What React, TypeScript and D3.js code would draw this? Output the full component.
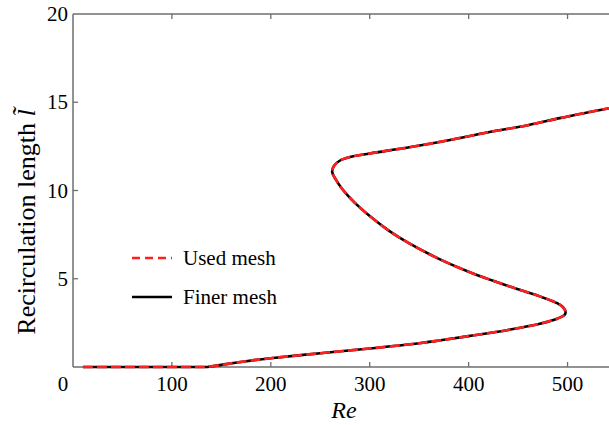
import React from 'react';
import * as d3 from 'd3';

// flat part of the curve (l = 0)
const flatRe = [10, 136];
const flatL = [0, 0];
// Re values along the curve (lower branch -> nose -> upper branch)
const reValues = [136, 150, 175, 200, 250, 300, 350, 370, 400, 440, 472, 490, 497, 498, 496, 490, 472, 450, 424, 400, 371, 340, 320, 300, 285, 272, 266, 262, 264, 270, 280, 300, 340, 380, 420, 460, 492, 520, 541, 560];
const lValues = [0, 0.12, 0.33, 0.5, 0.78, 1.05, 1.35, 1.5, 1.75, 2.1, 2.45, 2.75, 2.95, 3.1, 3.35, 3.6, 4.0, 4.4, 4.9, 5.4, 6.1, 7.0, 7.7, 8.55, 9.3, 10.1, 10.6, 11.05, 11.4, 11.7, 11.9, 12.1, 12.45, 12.85, 13.3, 13.7, 14.1, 14.42, 14.65, 14.82];
const xTicks = [0, 100, 200, 300, 400, 500];
const yTicks = [0, 5, 10, 15, 20];
const legendLabels = ['Used mesh', 'Finer mesh'];

const W = 609;
const H = 425;
const left = 73, top = 14, bottom = 367;
const right = 617;

export default function App() {
  const x = d3.scaleLinear().domain([0, 550]).range([left, right]);
  const y = d3.scaleLinear().domain([0, 20]).range([bottom, top]);
  const pts = reValues.map((r, i) => [r, lValues[i]] as [number, number]);
  const flat = flatRe.map((r, i) => [r, flatL[i]] as [number, number]);
  const curve = d3.line<[number, number]>()
    .x(d => x(d[0]))
    .y(d => y(d[1]))
    .curve(d3.curveCatmullRom.alpha(0.5));
  const straight = d3.line<[number, number]>()
    .x(d => x(d[0]))
    .y(d => y(d[1]));
  const path = (straight(flat) || '') + (curve(pts) || '').replace(/^M/, 'L');
  const axisColor = '#6e6e6e';
  const font = '"Liberation Serif", "Times New Roman", serif';
  const red = '#ff1f1f';

  return (
    <svg width={W} height={H} style={{ position: 'absolute', left: 0, top: 0 }} fontFamily={font}>
      <rect x={0} y={0} width={W} height={H} fill="#fff" />
      {/* frame */}
      <line x1={left} x2={right} y1={top} y2={top} stroke={axisColor} strokeWidth={1.5} />
      <line x1={left} x2={right} y1={bottom} y2={bottom} stroke={axisColor} strokeWidth={1.5} />
      <line x1={left} x2={left} y1={top} y2={bottom} stroke={axisColor} strokeWidth={1.5} />
      {xTicks.map(t => (
        <g key={'x' + t}>
          {t > 0 && <line x1={x(t)} x2={x(t)} y1={bottom} y2={bottom - 5} stroke={axisColor} strokeWidth={1.3} />}
          {t > 0 && <line x1={x(t)} x2={x(t)} y1={top} y2={top + 5} stroke={axisColor} strokeWidth={1.3} />}
          <text x={x(t) - (t === 0 ? 10 : 0)} y={391} fontSize={21} textAnchor="middle">{t}</text>
        </g>
      ))}
      {yTicks.map(t => (
        <g key={'y' + t}>
          {t > 0 && t < 20 && <line x1={left} x2={left + 5} y1={y(t)} y2={y(t)} stroke={axisColor} strokeWidth={1.3} />}
          {t > 0 && <text x={left - 5} y={y(t) + 7} fontSize={21} textAnchor="end">{t}</text>}
        </g>
      ))}
      {/* curves */}
      <path d={path} fill="none" stroke="#000" strokeWidth={2.6} />
      <path d={path} fill="none" stroke={red} strokeWidth={2.6} strokeDasharray="10 4" />
      {/* legend */}
      <line x1={132} x2={172} y1={258} y2={258} stroke={red} strokeWidth={2.6} strokeDasharray="8 5" />
      <line x1={132} x2={172} y1={297} y2={297} stroke="#000" strokeWidth={2.6} />
      <text x={183} y={265} fontSize={21}>{legendLabels[0]}</text>
      <text x={183} y={304} fontSize={21}>{legendLabels[1]}</text>
      {/* axis titles */}
      <text x={344} y={418} fontSize={24} fontStyle="italic" textAnchor="middle">Re</text>
      <text transform={`translate(35, 222) rotate(-90)`} fontSize={26} textAnchor="middle">
        Recirculation length <tspan fontStyle="italic">l&#x0303;</tspan>
      </text>
    </svg>
  );
}
